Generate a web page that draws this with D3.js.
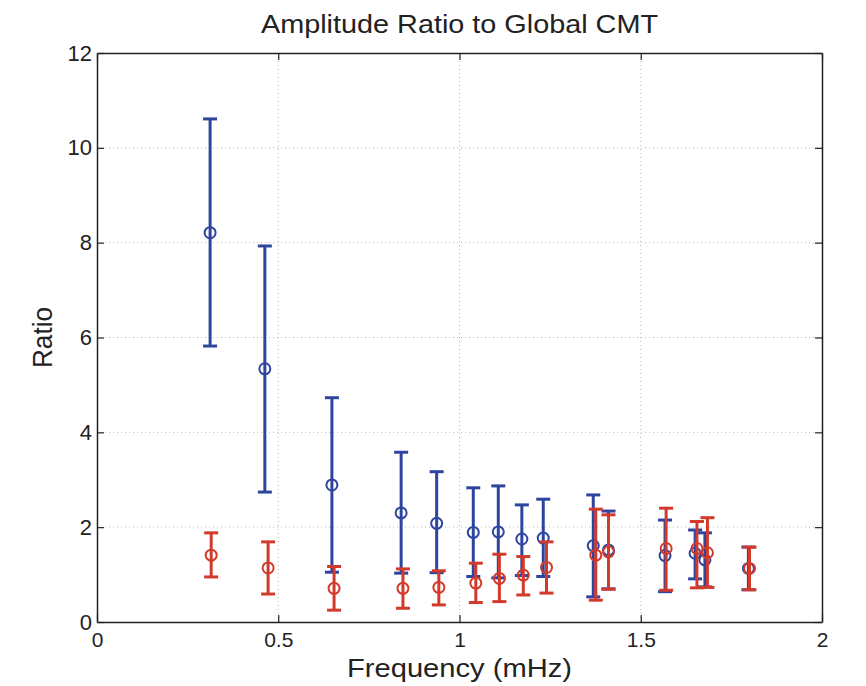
<!DOCTYPE html>
<html>
<head>
<meta charset="utf-8">
<script src="https://cdn.jsdelivr.net/npm/d3@7"></script>
<style>
  body { margin: 0; background: #fff; }
  text { font-family: "Liberation Sans", Arial, sans-serif; fill: #222; }
</style>
</head>
<body>
<div id="chart"></div>
<script>
// frequency (mHz) for each measurement
const blueFreq = [0.312, 0.463, 0.648, 0.839, 0.937, 1.038, 1.107, 1.172, 1.231, 1.369, 1.411, 1.567, 1.650, 1.677, 1.797];
const blueVal  = [8.21, 5.34, 2.89, 2.30, 2.08, 1.89, 1.90, 1.75, 1.77, 1.61, 1.52, 1.40, 1.45, 1.31, 1.13];
const blueHi   = [10.61, 7.93, 4.73, 3.58, 3.17, 2.83, 2.87, 2.47, 2.59, 2.68, 2.34, 2.15, 1.94, 1.88, 1.58];
const blueLo   = [5.82, 2.74, 1.05, 1.03, 1.04, 0.96, 0.93, 0.98, 0.96, 0.53, 0.70, 0.64, 0.91, 0.74, 0.68];

const redFreq = [0.315, 0.472, 0.654, 0.844, 0.943, 1.045, 1.110, 1.176, 1.240, 1.376, 1.411, 1.570, 1.655, 1.684, 1.800];
const redVal  = [1.41, 1.14, 0.71, 0.71, 0.73, 0.82, 0.92, 0.99, 1.15, 1.41, 1.48, 1.55, 1.55, 1.46, 1.13];
const redHi   = [1.88, 1.69, 1.17, 1.12, 1.08, 1.24, 1.43, 1.38, 1.69, 2.38, 2.26, 2.40, 2.12, 2.20, 1.58];
const redLo   = [0.95, 0.59, 0.25, 0.29, 0.36, 0.41, 0.43, 0.57, 0.61, 0.46, 0.69, 0.67, 0.72, 0.73, 0.68];

const xTicks = [0, 0.5, 1, 1.5, 2];
const yTicks = [0, 2, 4, 6, 8, 10, 12];

const width = 866, height = 686;
const margin = { top: 53, right: 44, bottom: 64, left: 97 };
const w = width - margin.left - margin.right;
const h = height - margin.top - margin.bottom;

const svg = d3.select('#chart').append('svg')
  .attr('width', width)
  .attr('height', height);

const g = svg.append('g')
  .attr('transform', `translate(${margin.left},${margin.top})`);

const x = d3.scaleLinear().domain([0, 2]).range([0, w]);
const y = d3.scaleLinear().domain([0, 12]).range([h, 0]);

// dotted grid
g.append('g').selectAll('line.vg')
  .data(xTicks.slice(1, -1))
  .join('line')
  .attr('x1', d => x(d)).attr('x2', d => x(d))
  .attr('y1', 0).attr('y2', h)
  .attr('stroke', '#b8b8b8').attr('stroke-width', 1)
  .attr('stroke-dasharray', '1,3');

g.append('g').selectAll('line.hg')
  .data(yTicks.slice(1, -1))
  .join('line')
  .attr('y1', d => y(d)).attr('y2', d => y(d))
  .attr('x1', 0).attr('x2', w)
  .attr('stroke', '#b8b8b8').attr('stroke-width', 1)
  .attr('stroke-dasharray', '1,3');

// axes, MATLAB style with inward ticks on every side
const xAxis = d3.axisBottom(x).tickValues(xTicks).tickFormat(d3.format('')).tickSizeInner(-7).tickSizeOuter(0).tickPadding(10);
const yAxis = d3.axisLeft(y).tickValues(yTicks).tickSizeInner(-7).tickSizeOuter(0).tickPadding(5);

const xg = g.append('g').attr('transform', `translate(0,${h})`).call(xAxis);
const yg = g.append('g').call(yAxis);
g.append('g').call(d3.axisTop(x).tickValues(xTicks).tickFormat('').tickSizeInner(-7).tickSizeOuter(0));
g.append('g').attr('transform', `translate(${w},0)`)
  .call(d3.axisRight(y).tickValues(yTicks).tickFormat('').tickSizeInner(-7).tickSizeOuter(0));

g.selectAll('.domain').attr('stroke', '#222').attr('stroke-width', 1.5);
g.selectAll('.tick line').attr('stroke', '#222').attr('stroke-width', 1.2);
xg.selectAll('text').attr('font-size', 21).style('font-family', '"Liberation Sans", Arial, sans-serif').attr('fill', '#222');
yg.selectAll('text').attr('font-size', 22).style('font-family', '"Liberation Sans", Arial, sans-serif').attr('fill', '#222');

// error bars + circles for one series
function drawSeries(freq, val, hi, lo, color) {
  const data = freq.map((f, i) => ({ f: f, v: val[i], hi: hi[i], lo: lo[i] }));
  const s = g.append('g');
  const cap = 7;
  s.selectAll('line.bar').data(data).join('line')
    .attr('x1', d => x(d.f)).attr('x2', d => x(d.f))
    .attr('y1', d => y(d.hi)).attr('y2', d => y(d.lo))
    .attr('stroke', color).attr('stroke-width', 3);
  s.selectAll('line.capTop').data(data).join('line')
    .attr('x1', d => x(d.f) - cap).attr('x2', d => x(d.f) + cap)
    .attr('y1', d => y(d.hi)).attr('y2', d => y(d.hi))
    .attr('stroke', color).attr('stroke-width', 3);
  s.selectAll('line.capBot').data(data).join('line')
    .attr('x1', d => x(d.f) - cap).attr('x2', d => x(d.f) + cap)
    .attr('y1', d => y(d.lo)).attr('y2', d => y(d.lo))
    .attr('stroke', color).attr('stroke-width', 3);
  s.selectAll('circle').data(data).join('circle')
    .attr('cx', d => x(d.f)).attr('cy', d => y(d.v))
    .attr('r', 5.5)
    .attr('fill', 'none')
    .attr('stroke', color).attr('stroke-width', 2);
}

drawSeries(blueFreq, blueVal, blueHi, blueLo, '#2e45a0');
drawSeries(redFreq, redVal, redHi, redLo, '#d23a2c');

// labels
svg.append('text')
  .attr('x', margin.left + w / 2).attr('y', 33)
  .attr('text-anchor', 'middle')
  .attr('font-size', 25)
  .attr('textLength', 397).attr('lengthAdjust', 'spacingAndGlyphs')
  .text('Amplitude Ratio to Global CMT');

svg.append('text')
  .attr('x', margin.left + w / 2).attr('y', 677)
  .attr('text-anchor', 'middle')
  .attr('font-size', 25)
  .attr('textLength', 225).attr('lengthAdjust', 'spacingAndGlyphs')
  .text('Frequency (mHz)');

svg.append('text')
  .attr('transform', `translate(52,${margin.top + h / 2}) rotate(-90)`)
  .attr('text-anchor', 'middle')
  .attr('font-size', 27)
  .attr('textLength', 61).attr('lengthAdjust', 'spacingAndGlyphs')
  .text('Ratio');
</script>
</body>
</html>
